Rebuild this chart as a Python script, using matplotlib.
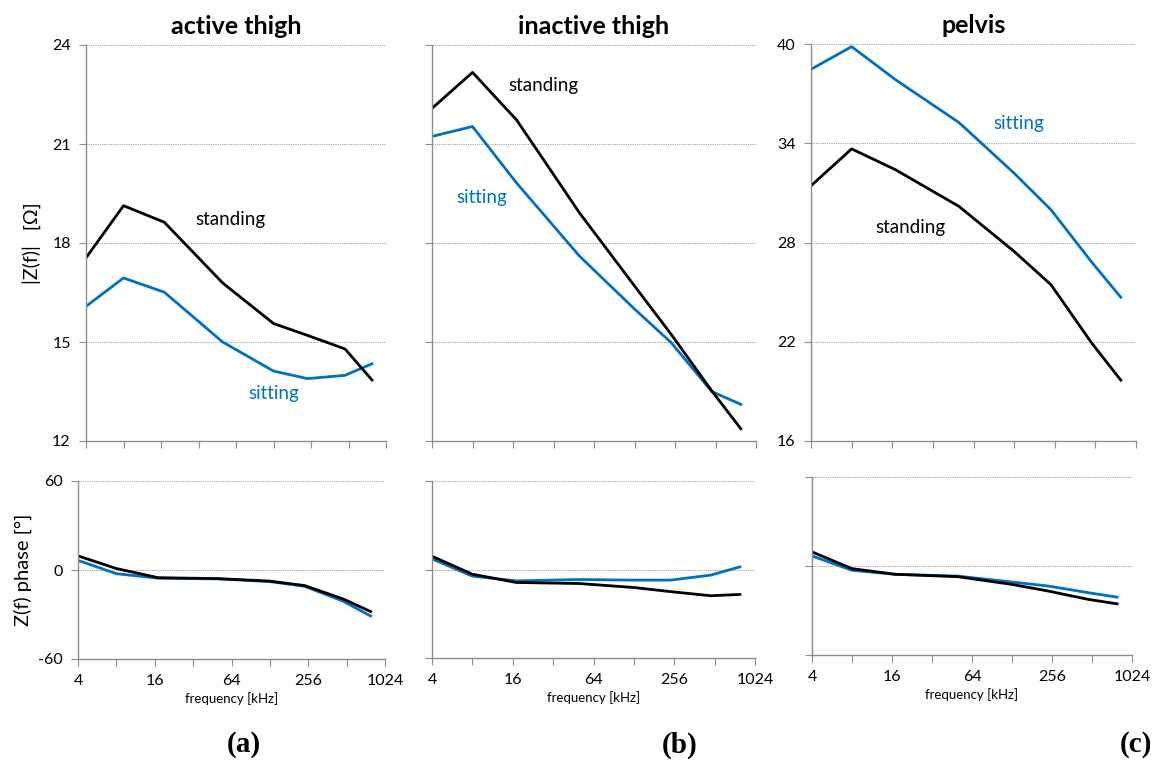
import numpy as np
import matplotlib
matplotlib.use("Agg")
import matplotlib.pyplot as plt
from matplotlib.ticker import FixedLocator, NullFormatter, NullLocator

# frequencies (kHz)
freq = [4, 8, 17, 50, 128, 240, 480, 790]

# |Z(f)| [Ohm]
active_standing = [17.55, 19.13, 18.63, 16.79, 15.56, 15.2, 14.79, 13.85]
active_sitting = [16.08, 16.94, 16.51, 15.0, 14.12, 13.89, 13.99, 14.34]
inactive_standing = [22.08, 23.17, 21.73, 18.91, 16.7, 15.23, 13.52, 12.37]
inactive_sitting = [21.23, 21.53, 19.82, 17.6, 16.0, 14.98, 13.5, 13.11]
pelvis_standing = [31.43, 33.66, 32.39, 30.18, 27.46, 25.45, 21.93, 19.68]
pelvis_sitting = [38.47, 39.84, 37.83, 35.25, 32.19, 29.98, 26.82, 24.69]

# phase [deg]
active_standing_ph = [9.5, 1.0, -5.2, -5.8, -7.5, -10.5, -19.5, -28]
active_sitting_ph = [6.5, -2.5, -5.5, -6, -7.8, -11, -21, -31]
inactive_standing_ph = [9, -3.2, -8.8, -9.5, -12.2, -15, -17.8, -16.9]
inactive_sitting_ph = [7.2, -4.5, -7.7, -6.8, -7.2, -7.2, -3.8, 1.8]
pelvis_standing_ph = [9.5, -1.8, -5.6, -7.2, -12.4, -16.9, -22.5, -25.5]
pelvis_sitting_ph = [6.8, -2.9, -5.6, -6.8, -10.8, -13.5, -18, -21]

titles = ["active thigh", "inactive thigh", "pelvis"]
panel_tags = ["(a)", "(b)", "(c)"]
mag_ticks = [[12, 15, 18, 21, 24], [12, 15, 18, 21, 24], [16, 22, 28, 34, 40]]
phase_ticks = [-60, 0, 60]
x_labels = [4, 16, 64, 256, 1024]

BLUE = "#0070C0"
GRAY = "#8c8c8c"
W, H = 1152, 760

plt.rcParams["font.family"] = ["Lato", "DejaVu Sans"]
plt.rcParams["axes.unicode_minus"] = False

fig = plt.figure(figsize=(W / 100, H / 100), dpi=100)


def rect(l, r, t, b):
    return [l / W, 1 - b / H, (r - l) / W, (b - t) / H]


def style(ax, yticks, show_ylabels, show_xlabels):
    ax.set_xscale("log", base=2)
    ax.set_xlim(4, 1024)
    ax.set_ylim(yticks[0], yticks[-1])
    for s in ["top", "right"]:
        ax.spines[s].set_visible(False)
    for s in ["left", "bottom"]:
        ax.spines[s].set_color(GRAY)
        ax.spines[s].set_linewidth(1.0)
    ax.xaxis.set_major_locator(FixedLocator([2 ** k for k in range(2, 11)]))
    ax.xaxis.set_minor_locator(NullLocator())
    if show_xlabels:
        ax.set_xticklabels([str(2 ** k) if 2 ** k in x_labels else "" for k in range(2, 11)])
    else:
        ax.xaxis.set_major_formatter(NullFormatter())
    ax.set_yticks(yticks)
    if not show_ylabels:
        ax.set_yticklabels([])
    ax.tick_params(axis="both", direction="out", length=5, color=GRAY, labelsize=11.5, pad=6)
    for v in yticks[1:]:
        ax.axhline(v, color="#a0a0a0", lw=0.8, ls=(0, (1, 1)), zorder=0)


top_rects = [(86, 386, 45, 441), (432, 756, 45, 441), (811, 1136, 44, 441)]
bot_rects = [(78, 385, 481, 659), (432, 755, 481, 658), (812, 1132, 477, 655)]
mags = [(active_standing, active_sitting), (inactive_standing, inactive_sitting),
        (pelvis_standing, pelvis_sitting)]
phases = [(active_standing_ph, active_sitting_ph), (inactive_standing_ph, inactive_sitting_ph),
          (pelvis_standing_ph, pelvis_sitting_ph)]

for i in range(3):
    ax = fig.add_axes(rect(*top_rects[i]))
    style(ax, mag_ticks[i], i != 1, False)
    st, si = mags[i]
    ax.plot(freq, si, color=BLUE, lw=2.0)
    ax.plot(freq, st, color="black", lw=2.0)
    ax.set_title(titles[i], fontsize=18, fontweight="bold", pad=8)
    if i == 0:
        ax.set_ylabel("|Z(f)|   [\u03a9]", fontsize=14, labelpad=8)

    bx = fig.add_axes(rect(*bot_rects[i]))
    style(bx, phase_ticks, i == 0, True)
    st, si = phases[i]
    bx.plot(freq, si, color=BLUE, lw=2.0)
    bx.plot(freq, st, color="black", lw=2.0)
    bx.set_xlabel("frequency [kHz]", fontsize=9.5, labelpad=3)
    if i == 0:
        bx.set_ylabel("Z(f) phase [\u00b0]", fontsize=14.5, labelpad=4)

# curve labels
fig.text(230 / W, 1 - 220 / H, "standing", fontsize=13.5, color="black", ha="center", va="center")
fig.text(274 / W, 1 - 393 / H, "sitting", fontsize=13.5, color=BLUE, ha="center", va="center")
fig.text(543 / W, 1 - 86 / H, "standing", fontsize=13.5, color="black", ha="center", va="center")
fig.text(482 / W, 1 - 197 / H, "sitting", fontsize=13.5, color=BLUE, ha="center", va="center")
fig.text(1019 / W, 1 - 123 / H, "sitting", fontsize=13.5, color=BLUE, ha="center", va="center")
fig.text(910 / W, 1 - 227 / H, "standing", fontsize=13.5, color="black", ha="center", va="center")

for x, tag in zip([244, 680, 1136], panel_tags):
    fig.text(x / W, 1 - 745 / H, tag, fontsize=21, fontweight="bold",
             family="Liberation Serif", ha="center", va="center")

fig.savefig("out.png", dpi=100)
